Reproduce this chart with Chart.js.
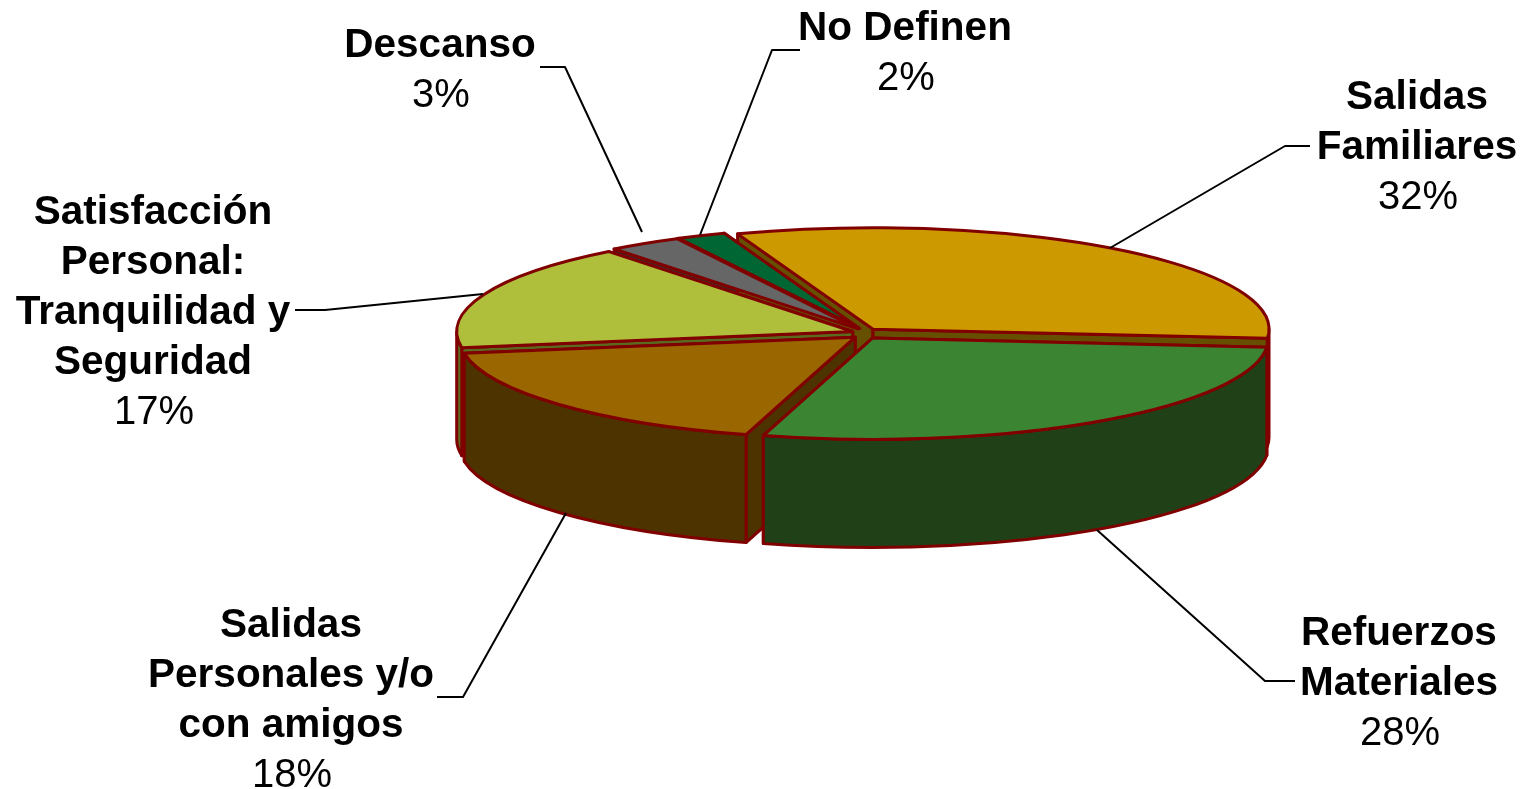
<!DOCTYPE html>
<html>
<head>
<meta charset="utf-8">
<style>
  html, body { margin: 0; padding: 0; background: #fff; overflow: hidden; }
  canvas { display: block; }
</style>
<script src="https://cdn.jsdelivr.net/npm/chart.js@4"></script>
</head>
<body>
<canvas id="chart" width="1522" height="789"></canvas>
<script>
const categories = ['Salidas Familiares', 'Refuerzos Materiales', 'Salidas Personales y/o con amigos',
    'Satisfacción Personal: Tranquilidad y Seguridad', 'Descanso', 'No Definen'];
const shares = [32, 28, 18, 17, 3, 2];

const topColors = ['#cc9900', '#3b8532', '#996600', '#afbe3b', '#666666', '#006633'];
const sideColors = ['#665000', '#204018', '#4d3300', '#5a6b20', '#333333', '#00331a'];
const explodeOffsets = [48, 52, 48, 47, 29, 28];

// wrapped label text, one entry per category
const labelLines = [
    ['Salidas', 'Familiares'],
    ['Refuerzos', 'Materiales'],
    ['Salidas', 'Personales y/o', 'con amigos'],
    ['Satisfacción', 'Personal:', 'Tranquilidad y', 'Seguridad'],
    ['Descanso'],
    ['No Definen']
];
const labelCenterX = [1417, 1399, 291, 153, 440, 905];
const labelFirstBaseline = [109, 645, 637, 224, 57, 40];
const leaderLines = [
    [[1310, 146], [1285, 146], [1110, 248]],
    [[1295, 681], [1265, 681], [1097, 530]],
    [[437, 697], [463, 697], [566, 513]],
    [[295, 310], [325, 310], [483, 294]],
    [[540, 67], [565, 67], [642, 232]],
    [[800, 50], [772, 50], [700, 235]]
];

const TILT = 0.256;
const EXPLODE_TILT = 0.42; // slices are pulled apart more in y than the disc is squashed
const DEPTH = 108;
const RADIUS = 396;
const OUTLINE = '#800000';
const LINE_HEIGHT = 50;

const pivotY = (chart) => (chart.chartArea.top + chart.chartArea.bottom) / 2;

// same shift the arc element applies to itself when it has an offset
const arcShift = (arc) => {
    const circ = arc.endAngle - arc.startAngle;
    const base = (arc.options.offset || 0) / 4;
    return base + base * (1 - Math.sin(Math.min(Math.PI, circ)));
};

const sliceGeometry = (chart, arc) => {
    const mid = (arc.startAngle + arc.endAngle) / 2;
    const shift = arcShift(arc);
    const pivot = pivotY(chart);
    const cx = arc.x + Math.cos(mid) * shift;
    const cy = pivot + (arc.y - pivot + Math.sin(mid) * shift) * TILT;
    return { cx, cy, mid, rx: arc.outerRadius, ry: arc.outerRadius * TILT, a0: arc.startAngle, a1: arc.endAngle };
};

const pointOn = (g, a) => [g.cx + Math.cos(a) * g.rx, g.cy + Math.sin(a) * g.ry];

const paintPath = (ctx, fill) => {
    if (fill) {
        ctx.fillStyle = fill;
        ctx.fill();
    }
    ctx.strokeStyle = OUTLINE;
    ctx.lineWidth = 3;
    ctx.lineJoin = 'round';
    ctx.stroke();
};

const drawCutWall = (ctx, g, a, color) => {
    const p = pointOn(g, a);
    ctx.beginPath();
    ctx.moveTo(g.cx, g.cy);
    ctx.lineTo(p[0], p[1]);
    ctx.lineTo(p[0], p[1] + DEPTH);
    ctx.lineTo(g.cx, g.cy + DEPTH);
    ctx.closePath();
    paintPath(ctx, color);
};

const drawOuterWall = (ctx, g, color) => {
    // only the part of the rim facing the viewer, canvas angles 0..PI
    for (let k = -1; k <= 1; k++) {
        const from = Math.max(g.a0, k * 2 * Math.PI);
        const to = Math.min(g.a1, k * 2 * Math.PI + Math.PI);
        if (to <= from) continue;
        ctx.beginPath();
        ctx.ellipse(g.cx, g.cy, g.rx, g.ry, 0, from, to);
        ctx.ellipse(g.cx, g.cy + DEPTH, g.rx, g.ry, 0, to, from, true);
        ctx.closePath();
        paintPath(ctx, color);
    }
};

const pie3d = {
    id: 'pie3d',
    afterDatasetUpdate(chart) {
        const pivot = pivotY(chart);
        chart.getDatasetMeta(0).data.forEach((arc) => {
            const mid = (arc.startAngle + arc.endAngle) / 2;
            arc.y = pivot + Math.sin(mid) * arcShift(arc) * (EXPLODE_TILT / TILT - 1);
        });
    },
    beforeDatasetsDraw(chart) {
        const ctx = chart.ctx;
        const arcs = chart.getDatasetMeta(0).data;
        const slices = arcs.map((arc, i) => ({ g: sliceGeometry(chart, arc), i }));
        slices.sort((a, b) => Math.sin(a.g.mid) - Math.sin(b.g.mid));
        slices.forEach(({ g, i }) => {
            const cuts = [g.a0, g.a1].sort((a, b) => Math.sin(a) - Math.sin(b));
            cuts.forEach((a) => drawCutWall(ctx, g, a, sideColors[i]));
            drawOuterWall(ctx, g, sideColors[i]);
        });
        // squash the round pie the library draws into the tilted top face
        const pivot = pivotY(chart);
        ctx.save();
        ctx.translate(0, pivot);
        ctx.scale(1, TILT);
        ctx.translate(0, -pivot);
    },
    afterDatasetsDraw(chart) {
        const ctx = chart.ctx;
        ctx.restore();
        chart.getDatasetMeta(0).data.forEach((arc) => {
            const g = sliceGeometry(chart, arc);
            ctx.beginPath();
            ctx.moveTo(g.cx, g.cy);
            ctx.ellipse(g.cx, g.cy, g.rx, g.ry, 0, g.a0, g.a1);
            ctx.closePath();
            paintPath(ctx, null);
        });
    },
    afterDraw(chart) {
        const ctx = chart.ctx;
        ctx.save();
        ctx.strokeStyle = '#000';
        ctx.lineWidth = 2;
        leaderLines.forEach((pts) => {
            ctx.beginPath();
            pts.forEach((p, i) => (i ? ctx.lineTo(p[0], p[1]) : ctx.moveTo(p[0], p[1])));
            ctx.stroke();
        });
        ctx.fillStyle = '#000';
        ctx.textAlign = 'center';
        ctx.textBaseline = 'alphabetic';
        categories.forEach((name, i) => {
            let y = labelFirstBaseline[i];
            ctx.font = 'bold 40.5px "Liberation Sans"';
            labelLines[i].forEach((line) => {
                ctx.fillText(line, labelCenterX[i], y);
                y += LINE_HEIGHT;
            });
            ctx.font = '40px "Liberation Sans"';
            ctx.fillText(shares[i] + '%', labelCenterX[i] + 1, y);
        });
        ctx.restore();
    }
};

new Chart(document.getElementById('chart'), {
    type: 'pie',
    data: {
        labels: categories,
        datasets: [{
            data: shares,
            backgroundColor: topColors,
            borderWidth: 0,
            offset: explodeOffsets,
            radius: RADIUS,
            clip: false
        }]
    },
    options: {
        responsive: false,
        animation: false,
        events: [],
        rotation: -20,
        // centres the pie at x 865, y 333.5
        layout: { padding: { left: 208, bottom: 122 } },
        plugins: { legend: { display: false }, tooltip: { enabled: false } }
    },
    plugins: [pie3d]
});
</script>
</body>
</html>
